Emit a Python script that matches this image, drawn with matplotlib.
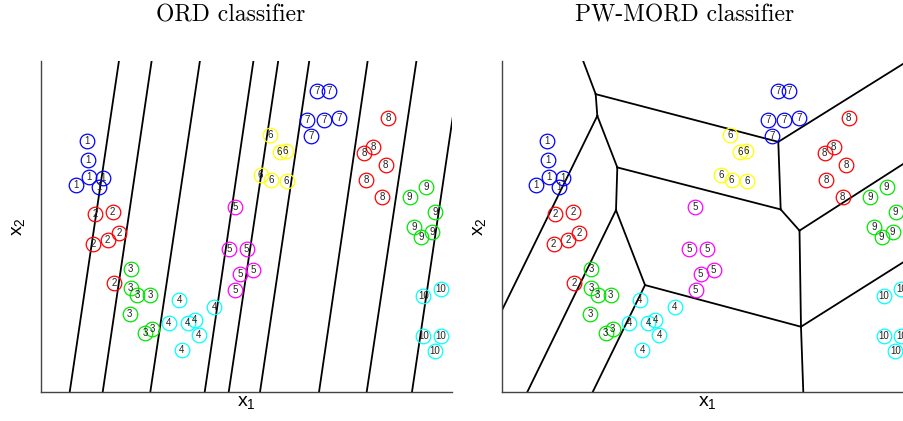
import matplotlib
matplotlib.use("Agg")
import matplotlib.pyplot as plt

plt.rcParams['mathtext.fontset'] = 'custom'
plt.rcParams['mathtext.rm'] = 'Liberation Sans'
plt.rcParams['mathtext.it'] = 'Liberation Sans'

# ---------------- data ----------------
class_labels = [1, 2, 3, 4, 5, 6, 7, 8, 9, 10]
class_colors = ['#0000ff', '#ff0000', '#00e600', '#00ffff', '#ff00ff',
                '#ffff00', '#0000ff', '#ff0000', '#00e600', '#00ffff']
class_x = [
    [1.105, 1.129, 1.161, 0.844, 1.494, 1.397],
    [1.307, 1.737, 1.265, 1.616, 1.891, 1.769],
    [2.175, 2.175, 2.336, 2.652, 2.151, 2.530, 2.701],
    [3.358, 3.107, 3.562, 3.732, 3.830, 3.423, 4.209],
    [4.713, 4.567, 4.998, 4.842, 5.158, 4.720],
    [5.564, 5.800, 5.946, 5.338, 5.596, 5.971],
    [6.715, 6.993, 6.472, 6.878, 7.236, 6.569],
    [8.443, 7.859, 8.078, 8.380, 7.900, 8.297],
    [9.367, 8.964, 9.586, 9.068, 9.513, 9.246],
    [9.294, 9.725, 9.294, 9.725, 9.579],
]
class_y = [
    [6.107, 5.645, 5.224, 5.036, 5.200, 4.995],
    [4.324, 4.372, 3.601, 3.706, 3.861, 2.645],
    [3.000, 2.530, 2.353, 2.353, 1.905, 1.443, 1.540],
    [2.238, 1.686, 1.686, 1.752, 1.380, 1.022, 2.075],
    [4.501, 3.487, 3.472, 2.864, 2.968, 2.482],
    [6.246, 5.832, 5.864, 5.280, 5.151, 5.127],
    [7.324, 7.324, 6.611, 6.611, 6.667, 6.236],
    [6.659, 5.822, 5.954, 5.523, 5.158, 4.752],
    [4.981, 4.752, 4.372, 4.027, 3.886, 3.764],
    [2.328, 2.499, 1.363, 1.363, 0.990],
]

XMAX, YMAX = 10.0, 8.07

# ORD classifier: parallel decision boundaries (x at bottom, x at top)
ord_bottom_x = [0.691, 1.494, 2.652, 3.976, 4.560, 5.321, 6.757, 7.917, 9.019]
ord_top_x = [1.891, 2.686, 3.861, 5.163, 5.766, 6.521, 7.942, 9.129, 10.216]

# PW-MORD classifier: piecewise boundaries (vertices + edges)
pw_vertices = {
    'T1': (1.978, 8.07), 'A': (2.287, 7.251), 'B': (2.326, 6.723),
    'L1': (0.0, 1.978), 'C': (2.813, 5.467), 'D': (2.781, 4.428),
    'Bt1': (0.623, 0.0), 'E': (3.487, 2.603), 'Bt2': (2.214, 0.0),
    'H': (6.730, 6.090), 'R1': (9.898, 8.07), 'I': (6.788, 4.445),
    'F': (7.246, 3.929), 'R2': (10.0, 5.70), 'G': (7.282, 1.589),
    'R3': (10.0, 3.304), 'Bt3': (7.338, 0.0),
}
pw_edges = [('T1', 'A'), ('A', 'B'), ('A', 'H'), ('B', 'L1'), ('B', 'C'),
            ('C', 'D'), ('C', 'I'), ('D', 'Bt1'), ('D', 'E'), ('E', 'Bt2'),
            ('E', 'G'), ('H', 'R1'), ('H', 'I'), ('I', 'F'), ('F', 'R2'),
            ('F', 'G'), ('G', 'R3'), ('G', 'Bt3')]

titles = ['ORD classifier', 'PW-MORD classifier']

# ---------------- figure ----------------
W, H = 904, 421
fig = plt.figure(figsize=(W / 100, H / 100), dpi=100)

ax_w = 411 / W
ax_h = 331.5 / H
ax_b = (H - 392) / H
ax1 = fig.add_axes([41.3 / W, ax_b, ax_w, ax_h])
ax2 = fig.add_axes([501.7 / W, ax_b, ax_w, ax_h])


def draw_points(ax):
    for lab, col, xs, ys in zip(class_labels, class_colors, class_x, class_y):
        ax.plot(xs, ys, 'o', ms=10.5, mfc='none', mec=col, mew=0.9,
                clip_on=False, zorder=3)
        for x, y in zip(xs, ys):
            ax.text(x, y, str(lab), ha='center', va='center',
                    fontsize=7.0, color='#222222', family='Liberation Sans',
                    zorder=4)


for ax in (ax1, ax2):
    ax.set_xlim(0, XMAX)
    ax.set_ylim(0, YMAX)
    ax.set_xticks([])
    ax.set_yticks([])
    for s in ('top', 'right'):
        ax.spines[s].set_visible(False)
    for s in ('left', 'bottom'):
        ax.spines[s].set_color('#444444')
        ax.spines[s].set_linewidth(1.0)
    ax.set_xlabel(r'$\mathrm{x}_1$', fontsize=14, labelpad=0)
    ax.set_ylabel(r'$\mathrm{x}_2$', fontsize=14, labelpad=10)

# ORD boundaries
for xb, xt in zip(ord_bottom_x, ord_top_x):
    ax1.plot([xb, xt], [0, YMAX], color='black', lw=1.3, zorder=2)

# PW-MORD boundaries
for a, b in pw_edges:
    xa, ya = pw_vertices[a]
    xb, yb = pw_vertices[b]
    ax2.plot([xa, xb], [ya, yb], color='black', lw=1.3, zorder=2)

draw_points(ax1)
draw_points(ax2)

fig.text(231 / W, 1 - 15 / H, titles[0], ha='center', va='center',
         fontsize=17, family='cmr10')
fig.text(685 / W, 1 - 15 / H, titles[1], ha='center', va='center',
         fontsize=17, family='cmr10')

fig.savefig('out.png', dpi=100)
